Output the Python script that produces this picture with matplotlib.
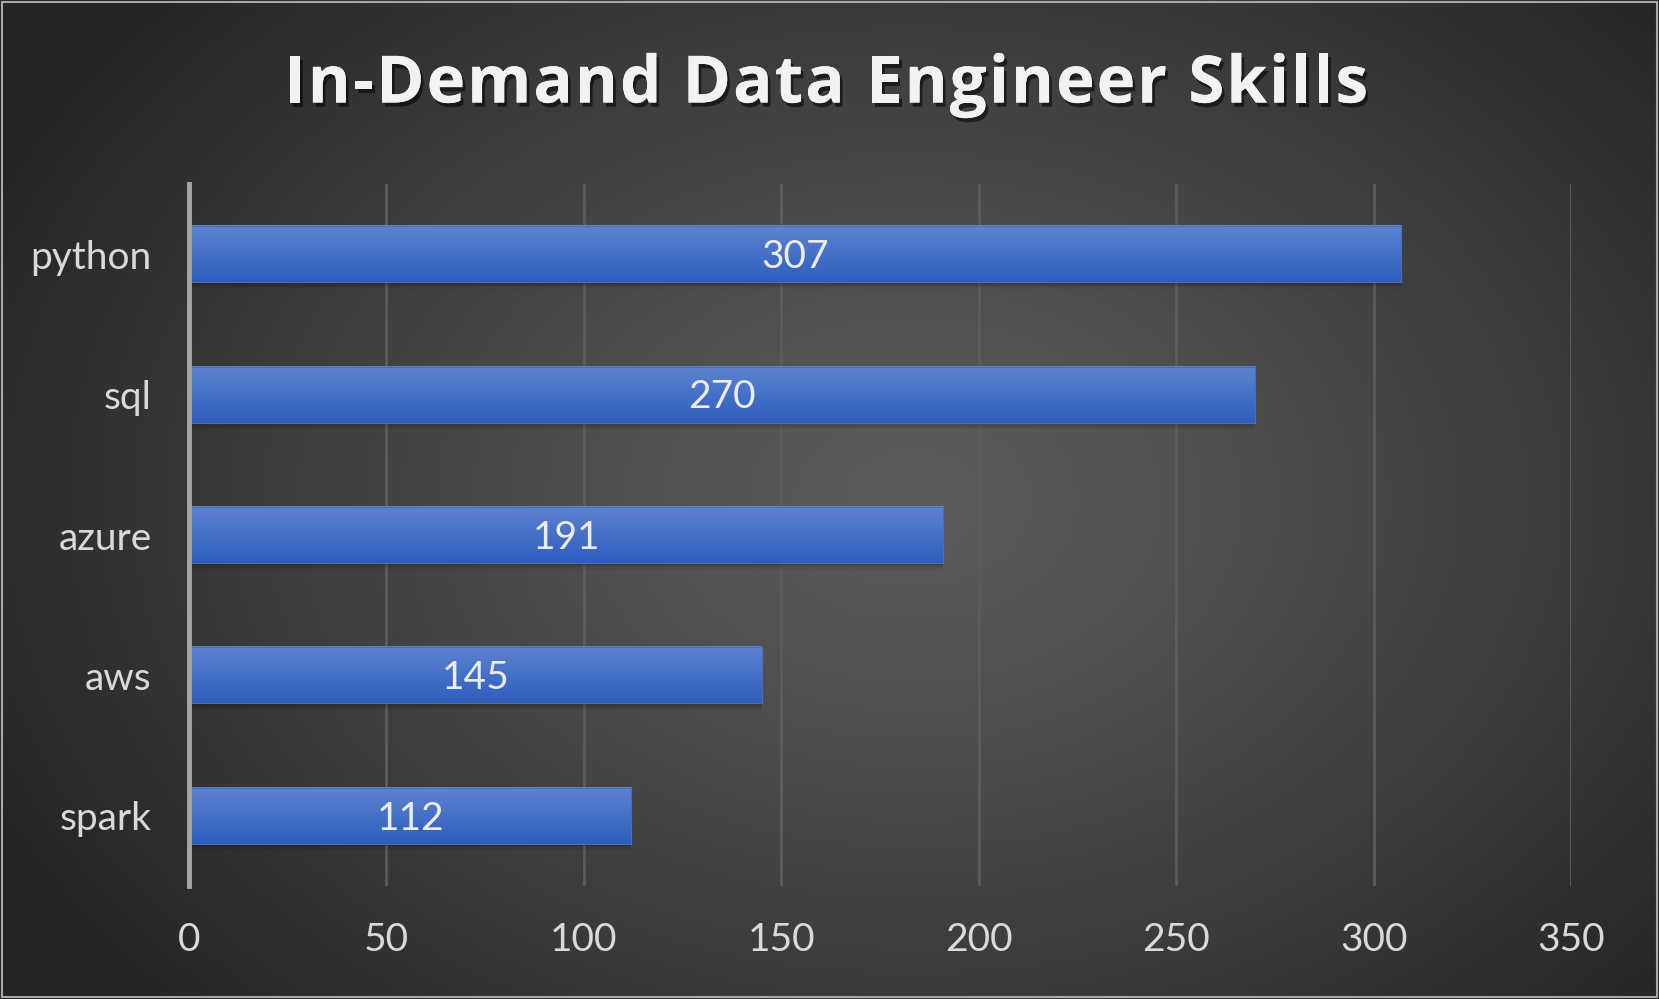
import numpy as np
import matplotlib
matplotlib.use("Agg")
import matplotlib.pyplot as plt
import matplotlib.patheffects as pe
from matplotlib.patches import Rectangle

# ---- data ----
skills = ["python", "sql", "azure", "aws", "spark"]
counts = [307, 270, 191, 145, 112]
xticks = [0, 50, 100, 150, 200, 250, 300, 350]
title = "In-Demand Data Engineer Skills"

W, H = 1659, 999
fig = plt.figure(figsize=(W / 100, H / 100), dpi=100)

# ---- background radial gradient ----
bg = fig.add_axes([0, 0, 1, 1], zorder=-10)
yy, xx = np.mgrid[0:H:2, 0:W:2]
cx, cy = 0.55 * W, 0.5 * H
d = np.sqrt(((xx - cx) / (0.62 * W)) ** 2 + ((yy - cy) / (0.75 * H)) ** 2)
d = np.clip(d, 0, 1)
v = (92 - 56 * d ** 1.2) / 255.0
img = np.dstack([v, v, v])
bg.imshow(img, extent=(0, 1, 0, 1), aspect="auto", origin="upper")
bg.set_xlim(0, 1)
bg.set_ylim(0, 1)
bg.axis("off")
bg.add_patch(Rectangle((0.001, 0.002), 0.998, 0.996, fill=False,
                       edgecolor="#a8a8a8", linewidth=1.5, transform=bg.transAxes))

# ---- main axes ----
ax = fig.add_axes([189 / W, 1 - 886 / H, 1382 / W, 702 / H])
ax.set_facecolor("none")

n = len(skills)
ypos = np.arange(n)[::-1]  # python at top
bh = 0.4
top_c = np.array([0x5d, 0x84, 0xd0]) / 255.0
bot_c = np.array([0x2d, 0x5d, 0xbd]) / 255.0
grad = np.linspace(0, 1, 64)[:, None]
bar_img = (bot_c[None, None, :] * (1 - grad[:, :, None]) + top_c[None, None, :] * grad[:, :, None])

for y, c in zip(ypos, counts):
    for k, a in enumerate([0.10, 0.08, 0.06, 0.04]):
        off = 0.012 * (k + 1)
        ax.add_patch(Rectangle((0, y - bh / 2 - off), c, off + 0.02,
                               facecolor="black", alpha=a, linewidth=0, zorder=2))
    ax.imshow(bar_img, extent=(0, c, y - bh / 2, y + bh / 2), aspect="auto",
              origin="lower", zorder=3, interpolation="bilinear")
    ax.add_patch(Rectangle((0, y - bh / 2), c, bh, fill=False,
                           edgecolor="#4a6fb8", linewidth=0.8, zorder=4))
    ax.text(c / 2, y - 0.02, str(c), ha="center", va="center", color="#ececec",
            fontsize=28, family="Lato", zorder=5)

ax.set_xlim(0, 350)
ax.set_ylim(-0.5, n - 0.5)
ax.set_xticks(xticks)
ax.set_xticklabels([str(t) for t in xticks])
ax.set_yticks(ypos)
ax.set_yticklabels(skills)

ax.grid(axis="x", color="#5c5c5c", linewidth=2, zorder=0)
ax.set_axisbelow(True)
for s in ["top", "right", "bottom"]:
    ax.spines[s].set_visible(False)
ax.spines["left"].set_color("#a6a6a6")
ax.spines["left"].set_linewidth(3.5)
ax.spines["left"].set_zorder(6)

ax.tick_params(axis="both", length=0, colors="#d9d9d9", labelsize=28)
ax.tick_params(axis="x", pad=26)
ax.tick_params(axis="y", pad=27)
for lab in ax.get_xticklabels() + ax.get_yticklabels():
    lab.set_family("Lato")
    lab.set_color("#d9d9d9")

# ---- title with letter spacing ----
renderer = fig.canvas.get_renderer()
tkw = dict(fontsize=47, fontweight="bold", family="Open Sans", color="#f2f2f2")
prefix_w = []
for i in range(len(title) + 1):
    if i == 0:
        prefix_w.append(0.0)
        continue
    t = fig.text(0, 0, title[:i].replace(" ", "\u00a0") if False else title[:i], **tkw)
    bb = t.get_window_extent(renderer)
    prefix_w.append(bb.width)
    t.remove()
# measure space handling: use advance of char via prefix difference (trailing spaces may be ignored)
natural = prefix_w[-1]
target_w = 1084.0
spacing = (target_w - natural) / (len(title) - 1)
x0 = 826 - target_w / 2
ty = 1 - 86 / H
for i, ch in enumerate(title):
    if ch == " ":
        continue
    xpix = x0 + prefix_w[i] + i * spacing
    fig.text(xpix / W, ty, ch, ha="left", va="center", **tkw,
             path_effects=[pe.withSimplePatchShadow(offset=(2, -3), shadow_rgbFace="black", alpha=0.55),
                           pe.Normal()])

fig.savefig("out.png", dpi=100)
